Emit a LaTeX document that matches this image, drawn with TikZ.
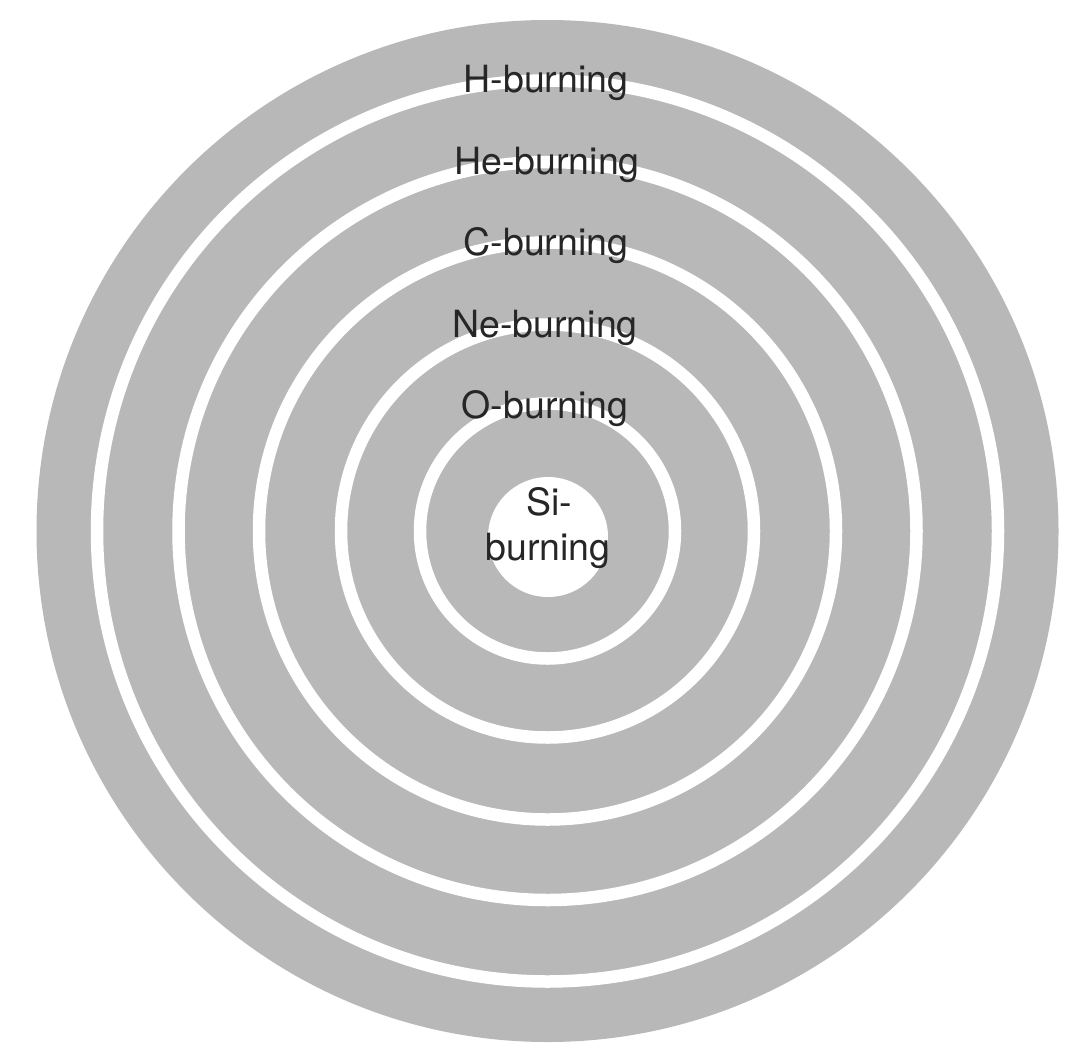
\documentclass[tikz,border=0pt]{standalone}
\usepackage{fontspec}
\setmainfont{TeX Gyre Heros}
\definecolor{shell}{RGB}{184,184,184}
\begin{document}
\begin{tikzpicture}[x=1pt,y=-1pt,
  gap/.style={draw=white, line width=12.5pt},
  lab/.style={anchor=base, inner sep=0pt, font=\fontsize{37.5}{42}\selectfont, text=black!85}]
\useasboundingbox (0,0) rectangle (1071,1047);
\fill[white] (0,0) rectangle (1071,1047);
\coordinate (c) at (547.5,531);
\fill[shell] (c) circle (511);
\draw[gap] (c) circle (450.5);
\draw[gap] (c) circle (369);
\draw[gap] (c) circle (288.5);
\draw[gap] (c) circle (206.5);
\draw[gap] (c) circle (127.5);
\fill[white] (548,537) circle (60);
\node[lab] (h)  at (546,92)  {H-burning};
\node[lab] (he) at (547,174) {He-burning};
\node[lab] (cb) at (546,255) {C-burning};
\node[lab] (ne) at (545,337) {Ne-burning};
\node[lab] (o)  at (545,418) {O-burning};
\node[lab] (si) at (549,515) {Si-};
\node[lab] (sib) at (548,560) {burning};
\end{tikzpicture}
\end{document}
